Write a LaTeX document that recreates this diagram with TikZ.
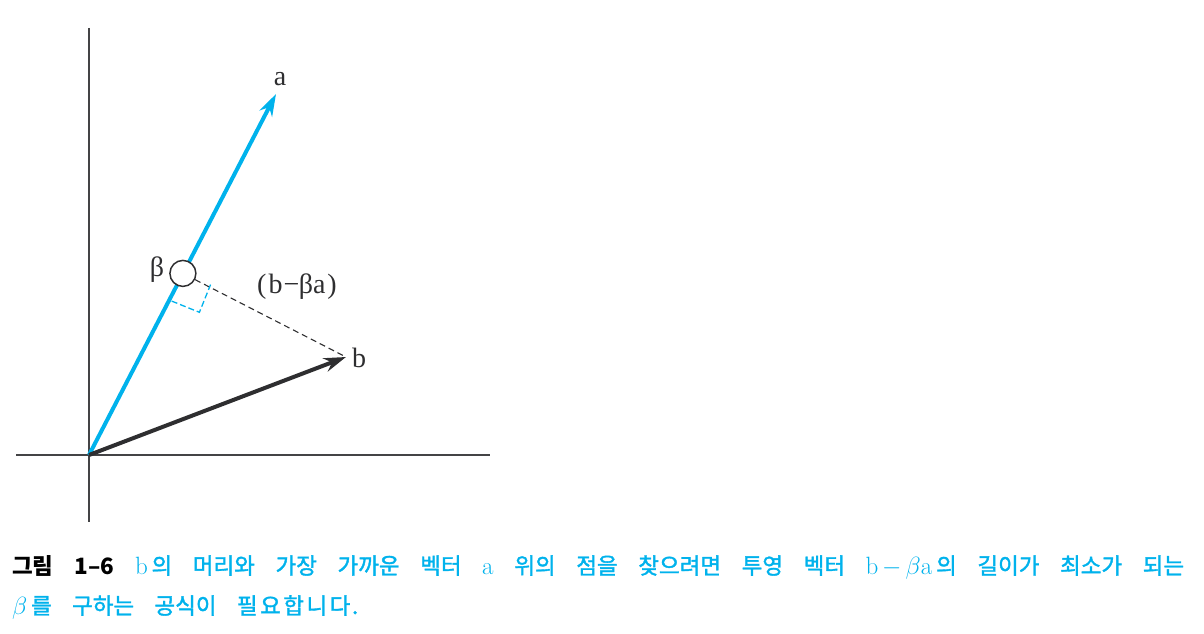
\documentclass[tikz,border=0pt]{standalone}
\usepackage{fontspec}
\usetikzlibrary{arrows.meta}
\newfontfamily\kor[FakeBold=1.6]{Noto Sans CJK KR}
\newfontfamily\korb{Noto Sans CJK KR}
\newfontfamily\lab{Liberation Serif}
\definecolor{cyanA}{HTML}{00B2EC}
\definecolor{darkB}{HTML}{2E2E30}
\definecolor{axisC}{HTML}{444446}
\tikzset{
  axisline/.style={draw=axisC, line width=1.8pt},
  veca/.style={draw=cyanA, line width=4pt, -{Stealth[length=22pt,width=14pt]}},
  vecb/.style={draw=darkB, line width=4pt, -{Stealth[length=22pt,width=14pt]}},
  projline/.style={draw=darkB, line width=1.1pt, dash pattern=on 6pt off 4pt},
  rightmark/.style={draw=cyanA, line width=1.3pt, dash pattern=on 6pt off 3pt},
  lbl/.style={font=\lab\fontsize{28}{32}\selectfont, text=darkB, inner sep=0pt},
  captext/.style={font=\kor\fontsize{22.5}{26}\selectfont, text=cyanA, inner sep=0pt, anchor=base west}
}
\newcommand{\Lt}[1]{{\rmfamily\mdseries\fontsize{25}{26}\selectfont #1}}
\begin{document}
\begin{tikzpicture}[x=1pt,y=-1pt]
\useasboundingbox (0,0) rectangle (1204,634);
% axes
\coordinate (O) at (89,455);
\coordinate (ytop) at (89,28);
\coordinate (ybot) at (89,522);
\coordinate (xl) at (16,455);
\coordinate (xr) at (490,455);
\draw[axisline] (ytop) -- (ybot);
\draw[axisline] (xl) -- (xr);
% points
\coordinate (A) at (276,94);
\coordinate (B) at (346,357);
\coordinate (P) at (182.9,273.4);
% vectors
\draw[veca] (O) -- (A);
\draw[vecb] (O) -- (B);
% projection
\node[circle, draw=darkB, fill=white, line width=1.5pt, minimum size=26pt, inner sep=0pt] (circ) at (P) {};
\draw[projline] (circ) -- (B);
\path (P) ++(-11.2,27.7) coordinate (m1) ++(27.7,11.2) coordinate (m2);
\path (P) ++(27.7,11.2) coordinate (m3);
\draw[rightmark] (m1) -- (m2) -- (m3);
% labels
\node[lbl] (la) at (280,79) {a};
\node[lbl] (lb) at (359,358) {b};
\node[lbl] (lbeta) at (157,270) {β};
\node[lbl] (ldiff) at (297,287) {(\kern2pt b\kern1pt−\kern-0.5ptβa\kern2pt)};
% caption
\node[captext] (c1) at (12,574) {\makebox[1172pt][s]{{\korb\bfseries\color{black}그림 1–6} \Lt{b}\,의 머리와 가장 가까운 벡터 \Lt{a} 위의 점을 찾으려면 투영 벡터 \Lt{b}\,{\fontsize{25}{26}\selectfont$-\,\beta$}\Lt{a}\,의 길이가 최소가 되는}};
\node[captext] (c2) at (12,614) {\makebox[346pt][s]{{\fontsize{25}{26}\selectfont$\beta$}\,를 구하는 공식이 필\kern2.5pt 요\kern2.5pt 합\kern2.5pt 니\kern2.5pt 다\kern1.5pt.}};
\end{tikzpicture}
\end{document}
